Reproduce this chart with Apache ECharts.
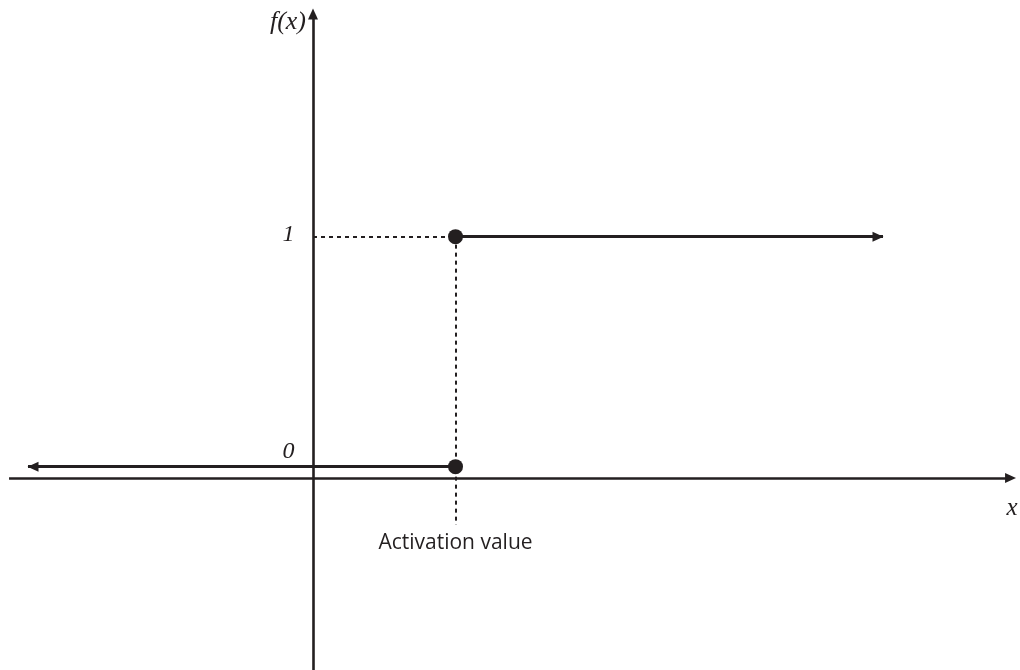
<!DOCTYPE html>
<html>
<head>
<meta charset="utf-8">
<script src="https://cdn.jsdelivr.net/npm/echarts@6/dist/echarts.min.js"></script>
<style>
  html, body { margin: 0; padding: 0; background: #ffffff; }
  #chart { width: 1020px; height: 670px; }
</style>
</head>
<body>
<div id="chart"></div>
<script>
// ---- Data (step / threshold activation function) ----
const ACTIVATION_VALUE = 1;               // x where the step happens
const LOW_LEVEL = 0;                       // f(x) below the threshold
const HIGH_LEVEL = 1;                      // f(x) at/above the threshold
const LOW_SEGMENT = [[-2, LOW_LEVEL], [ACTIVATION_VALUE, LOW_LEVEL]];
const HIGH_SEGMENT = [[ACTIVATION_VALUE, HIGH_LEVEL], [4, HIGH_LEVEL]];
const KEY_POINTS = [[ACTIVATION_VALUE, LOW_LEVEL], [ACTIVATION_VALUE, HIGH_LEVEL]];
const Y_TICKS = [LOW_LEVEL, HIGH_LEVEL];
const Y_TICK_LABELS = ['0', '1'];
const X_AXIS_NAME = 'x';
const Y_AXIS_NAME = 'f(x)';
const ANNOTATION = 'Activation value';

// ---- View / styling ----
const INK = '#231f20';
const X_MIN = -2.1965, X_MAX = 4.9614;
const Y_MIN = -0.884, Y_MAX = 1.968;
const X_AXIS_LEVEL = -0.049;               // drawn x-axis sits a little below f=0
const X_AXIS_FROM = -2.133, X_AXIS_TO = 4.895;
const GUIDE_BOTTOM = -0.2535;
const ARROW = [10, 11];

const chart = echarts.init(document.getElementById('chart'), null, { renderer: 'canvas' });

const solid = { color: INK, width: 3, type: 'solid' };
const thinSolid = { color: INK, width: 2.6, type: 'solid' };
const dashed = { color: INK, width: 2, type: [4, 4] };
const serifItalic = { fontFamily: 'Liberation Serif', fontStyle: 'italic', color: INK };

function end(coord, sym, style, pullBack) {
  const o = { coord: coord, symbol: sym, symbolSize: ARROW };
  if (pullBack) o.symbolOffset = [0, pullBack];
  if (style) o.lineStyle = style;
  return o;
}
function seg(a, b, style, symA, symB, pullBack) {
  return [end(a, symA, style, symA !== 'none' ? pullBack : 0), end(b, symB, null, symB !== 'none' ? pullBack : 0)];
}

const option = {
  backgroundColor: '#ffffff',
  animation: false,
  grid: { left: 0, right: 0, top: 14, bottom: 0, containLabel: false, outerBoundsMode: 'none' },
  xAxis: {
    type: 'value', min: X_MIN, max: X_MAX,
    axisLine: { show: false }, axisTick: { show: false },
    axisLabel: { show: false }, splitLine: { show: false }
  },
  yAxis: {
    type: 'value', min: Y_MIN, max: Y_MAX,
    name: Y_AXIS_NAME,
    nameLocation: 'end',
    nameGap: -8,
    nameTextStyle: Object.assign({}, serifItalic, {
      fontSize: 26, align: 'right', verticalAlign: 'middle', padding: [0, 7, 0, 0]
    }),
    axisLine: {
      show: true, onZero: true,
      symbol: ['none', 'triangle'], symbolSize: ARROW,
      lineStyle: { color: INK, width: 2.6 }
    },
    axisTick: { show: false },
    splitLine: { show: false },
    axisLabel: { show: false }
  },
  series: [
    {
      name: 'lines',
      type: 'scatter',
      data: [],
      z: 2,
      markLine: {
        silent: true,
        animation: false,
        label: { show: false },
        emphasis: { disabled: true },
        data: [
          seg([X_AXIS_FROM, X_AXIS_LEVEL], [X_AXIS_TO, X_AXIS_LEVEL], thinSolid, 'none', 'triangle', 0),
          seg(LOW_SEGMENT[0], LOW_SEGMENT[1], solid, 'triangle', 'none', 5),
          seg(HIGH_SEGMENT[0], HIGH_SEGMENT[1], solid, 'none', 'triangle', 5),
          seg([0, HIGH_LEVEL], [ACTIVATION_VALUE, HIGH_LEVEL], dashed, 'none', 'none', 0),
          seg([ACTIVATION_VALUE, HIGH_LEVEL], [ACTIVATION_VALUE, GUIDE_BOTTOM], dashed, 'none', 'none', 0)
        ]
      }
    },
    {
      name: 'points',
      type: 'scatter',
      z: 5,
      symbol: 'circle',
      symbolSize: 15,
      itemStyle: { color: INK, opacity: 1 },
      data: KEY_POINTS
    },
    {
      name: 'yTickLabels',
      type: 'scatter',
      z: 6,
      symbolSize: 1,
      silent: true,
      itemStyle: { opacity: 0 },
      data: Y_TICKS.map((v, i) => ({
        value: [0, v],
        label: {
          show: true, position: 'left', distance: 18,
          formatter: Y_TICK_LABELS[i],
          offset: v === LOW_LEVEL ? [0, -15] : [0, -2],
          opacity: 1,
          fontFamily: 'Liberation Serif', fontStyle: 'italic', fontSize: 24, color: INK
        }
      }))
    },
    {
      name: 'labels',
      type: 'scatter',
      z: 6,
      symbolSize: 1,
      silent: true,
      itemStyle: { opacity: 0 },
      data: [
        {
          value: [ACTIVATION_VALUE, -0.334],
          label: {
            show: true, position: 'inside', formatter: ANNOTATION, opacity: 1,
            fontFamily: 'Open Sans', fontSize: 21, color: INK
          }
        },
        {
          value: [4.905, -0.18],
          label: {
            show: true, position: 'inside', formatter: X_AXIS_NAME, opacity: 1,
            fontFamily: 'Liberation Serif', fontStyle: 'italic', fontSize: 25, color: INK
          }
        }
      ]
    }
  ]
};

chart.setOption(option);
</script>
</body>
</html>
